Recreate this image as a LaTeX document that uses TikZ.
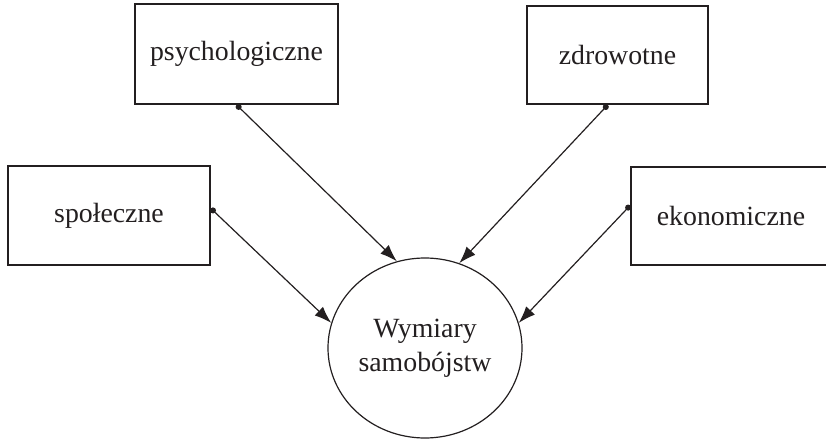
\documentclass[tikz,border=0pt]{standalone}
\usepackage{fontspec}
\setmainfont{Liberation Serif}
\usepackage{tikz}
\usetikzlibrary{arrows.meta,positioning,shapes.geometric}
\definecolor{ink}{HTML}{231F20}
\tikzset{
  factorbox/.style={draw=ink,line width=0.8pt,rectangle,align=center,
                    inner sep=0pt,text=ink,font=\fontsize{13.9}{17}\selectfont},
  coreell/.style={draw=ink,line width=0.6pt,ellipse,align=center,inner sep=0pt,
                  minimum width=97pt,minimum height=90pt,text=ink,
                  font=\fontsize{13.9}{17}\selectfont},
  linkarr/.style={{Circle[length=3pt]}-{Latex[length=8.5pt,width=6pt]},
                  line width=0.6pt,draw=ink}
}
\begin{document}
\begin{tikzpicture}[x=0.5pt,y=-0.5pt]
    \useasboundingbox (0,0) rectangle (826,439);
    \clip (0,0) rectangle (826,439);
    \node[factorbox,minimum width=101.5pt,minimum height=50pt] (psych) at (236.5,54)
      {psychologiczne};
    \node[factorbox,minimum width=90.5pt,minimum height=49pt] (zdrow) at (617.5,55)
      {zdrowotne};
    \node[factorbox,minimum width=101pt,minimum height=49.5pt] (spol) at (109,215.5)
      {społeczne};
    \node[factorbox,minimum width=100pt,minimum height=49pt] (ekon) at (731,216)
      {ekonomiczne};
    \node[coreell] (wym) at (425,348) {Wymiary\\samobójstw};
    \draw[linkarr] (psych.south) -- (wym.108);
    \draw[linkarr] (zdrow.-101) -- (wym.68);
    \draw[linkarr] (spol.4) -- (wym.165);
    \draw[linkarr] (ekon.174) -- (wym.15);
  \end{tikzpicture}
\end{document}
